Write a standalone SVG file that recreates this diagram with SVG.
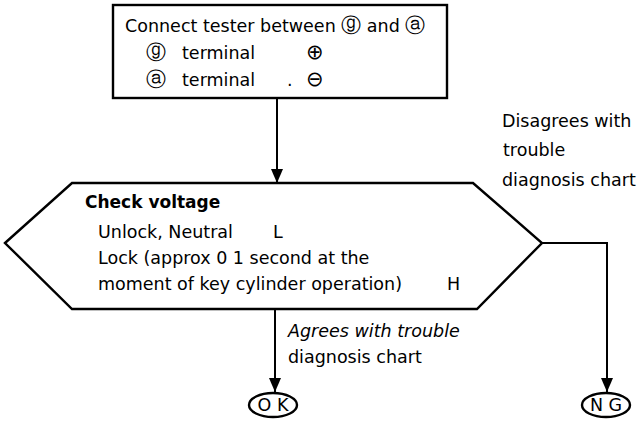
<svg xmlns="http://www.w3.org/2000/svg" width="641" height="429" viewBox="0 0 641 429">
<style>
.ln{fill:none;stroke:#000;stroke-width:2}
.sh{fill:#fff;stroke:#000;stroke-width:2.4}
text{font-family:"DejaVu Sans","Liberation Sans",sans-serif;font-size:17.5px;fill:#000}
.b{font-weight:bold;font-size:17px}
.i{font-style:italic}
.c{font-size:20px}
.pm{font-size:21px}
</style>
<defs>
<marker id="ah" markerWidth="14" markerHeight="12" refX="14" refY="6" orient="auto" markerUnits="userSpaceOnUse" viewBox="0 0 14 12">
<path d="M0,0 L14,6 L0,12 Z" fill="#000"/>
</marker>
</defs>
<g id="connectors">
<path class="ln" d="M277,98 V183" marker-end="url(#ah)"/>
<path class="ln" d="M275,309 V392" marker-end="url(#ah)"/>
<path class="ln" d="M542,243 H607 V392" marker-end="url(#ah)"/>
</g>
<g id="connect-tester">
<rect class="sh" x="113" y="5" width="334" height="93"/>
<text x="125" y="32">Connect tester between <tspan class="c">ⓖ</tspan> and <tspan class="c">ⓐ</tspan></text>
<text x="146" y="59"><tspan class="c">ⓖ</tspan><tspan x="182">terminal</tspan><tspan x="306" class="pm">⊕</tspan></text>
<text x="146" y="86"><tspan class="c">ⓐ</tspan><tspan x="182">terminal</tspan><tspan x="287">.</tspan><tspan x="306" class="pm">⊖</tspan></text>
</g>
<g id="check-voltage">
<polygon class="sh" points="5,243 72,183 473,183 542,243 477,309 72,309"/>
<text x="85" y="208" class="b">Check voltage</text>
<text x="98" y="238">Unlock, Neutral<tspan x="273">L</tspan></text>
<text x="98" y="264">Lock (approx  0 1 second at the</text>
<text x="98" y="290">moment of key cylinder operation)<tspan x="447">H</tspan></text>
</g>
<g id="labels">
<text x="288" y="337" class="i">Agrees with trouble</text>
<text x="288" y="363">diagnosis chart</text>
<text x="502" y="127">Disagrees with</text>
<text x="503" y="156">trouble</text>
<text x="502" y="186">diagnosis chart</text>
</g>
<g id="ok">
<ellipse class="sh" cx="273" cy="405" rx="24" ry="12"/>
<text x="273" y="411" text-anchor="middle">O K</text>
</g>
<g id="ng">
<ellipse class="sh" cx="606" cy="405" rx="24" ry="12"/>
<text x="606" y="411" text-anchor="middle">N G</text>
</g>
</svg>
